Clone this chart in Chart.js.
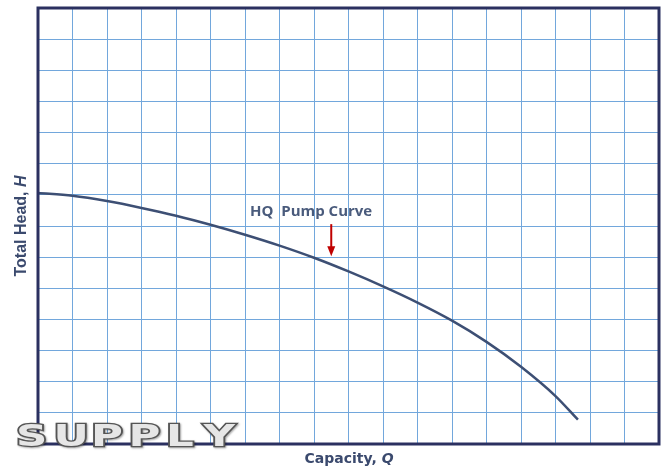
<!DOCTYPE html>
<html>
<head>
<meta charset="utf-8">
<script src="https://cdn.jsdelivr.net/npm/chart.js@4/dist/chart.umd.min.js"></script>
<style>
html,body{margin:0;padding:0;background:#fff;}
#wrap{position:relative;width:665px;height:470px;}
</style>
</head>
<body>
<div id="wrap"><canvas id="c"></canvas></div>
<script>
// Data (grid units)
const capacity = [0, 1, 2, 3, 4, 5, 6, 7, 8, 9, 10, 11, 12, 13, 14, 15, 15.65];
const head     = [8.06, 7.97, 7.80, 7.58, 7.33, 7.04, 6.72, 6.37, 5.98, 5.54, 5.06, 4.54, 3.96, 3.28, 2.48, 1.54, 0.78];
const xRange = [0, 18];
const yRange = [0, 14];
const seriesName = "HQ  Pump Curve";
const xTitle = ["Capacity, ", "Q"];
const yTitle = ["Total Head, ", "H"];
const watermark = "SUPPLY";
const annotationAt = [8.5, 6];

const overlay = {
  id: 'overlay',
  afterDraw(chart) {
    const ctx = chart.ctx, a = chart.chartArea;
    const xs = chart.scales.x, ys = chart.scales.y;
    ctx.save();
    // frame
    ctx.strokeStyle = '#2b3060';
    ctx.lineWidth = 3;
    ctx.strokeRect(a.left, a.top, a.right - a.left, a.bottom - a.top);

    // annotation text
    ctx.fillStyle = '#4a5b7c';
    ctx.font = 'bold 15px "Open Sans", sans-serif';
    ctx.textBaseline = 'middle';
    ctx.textAlign = 'left';
    ctx.fillText(seriesName, 250, 212);
    // red arrow pointing to the curve
    const ax = xs.getPixelForValue(annotationAt[0]);
    const ay = ys.getPixelForValue(annotationAt[1]);
    ctx.strokeStyle = '#c00000';
    ctx.fillStyle = '#c00000';
    ctx.lineWidth = 2;
    ctx.beginPath();
    ctx.moveTo(ax, ay - 33);
    ctx.lineTo(ax, ay - 8);
    ctx.stroke();
    ctx.beginPath();
    ctx.moveTo(ax - 4, ay - 11);
    ctx.lineTo(ax + 4, ay - 11);
    ctx.lineTo(ax, ay - 1);
    ctx.closePath();
    ctx.fill();

    // axis titles
    ctx.fillStyle = '#3b4a6e';
    ctx.textBaseline = 'middle';
    const xf = 'bold 14px "DejaVu Sans", sans-serif';
    const xfi = 'bold italic 14px "DejaVu Sans", sans-serif';
    ctx.font = xf;
    const w1 = ctx.measureText(xTitle[0]).width;
    ctx.font = xfi;
    const w2 = ctx.measureText(xTitle[1]).width;
    let sx = 349 - (w1 + w2) / 2;
    ctx.font = xf;
    ctx.fillText(xTitle[0], sx, 459);
    ctx.font = xfi;
    ctx.fillText(xTitle[1], sx + w1, 459);
    // y title
    ctx.save();
    ctx.translate(22, 226);
    ctx.rotate(-Math.PI / 2);
    const yf = 'bold 16px "Liberation Sans", Arial, sans-serif';
    const yfi = 'bold italic 16px "Liberation Sans", Arial, sans-serif';
    ctx.font = yf;
    const v1 = ctx.measureText(yTitle[0]).width;
    ctx.font = yfi;
    const v2 = ctx.measureText(yTitle[1]).width;
    let sy = -(v1 + v2) / 2;
    ctx.font = yf;
    ctx.fillText(yTitle[0], sy, 0);
    ctx.font = yfi;
    ctx.fillText(yTitle[1], sy + v1, 0);
    ctx.restore();

    // metallic watermark
    ctx.font = 'bold 30px "DejaVu Sans", sans-serif';
    ctx.textBaseline = 'alphabetic';
    const letters = watermark.split('');
    const gap = 37.5;
    const g = ctx.createLinearGradient(0, 422, 0, 447);
    g.addColorStop(0, '#e6e6e6');
    g.addColorStop(0.3, '#a9a9a9');
    g.addColorStop(0.5, '#7d7d7d');
    g.addColorStop(0.75, '#c4c4c4');
    g.addColorStop(1, '#6c6c6c');
    letters.forEach((ch, i) => {
      const cx = 16 + i * gap;
      ctx.save();
      ctx.translate(cx, 446);
      ctx.scale(1.45, 1.0);
      ctx.shadowColor = 'rgba(0,0,0,0.35)';
      ctx.shadowBlur = 2;
      ctx.shadowOffsetX = 1;
      ctx.shadowOffsetY = 1;
      ctx.lineWidth = 2.6;
      ctx.strokeStyle = '#555555';
      ctx.strokeText(ch, 0, 0);
      ctx.shadowColor = 'transparent';
      ctx.fillStyle = g;
      ctx.fillText(ch, 0, 0);
      ctx.restore();
    });
    ctx.restore();
  }
};

new Chart(document.getElementById('c'), {
  type: 'line',
  data: {
    datasets: [{
      label: seriesName,
      data: capacity.map((x, i) => ({ x: x, y: head[i] })),
      borderColor: '#3d4f74',
      borderWidth: 2.5,
      pointRadius: 0,
      fill: false,
      cubicInterpolationMode: 'monotone'
    }]
  },
  options: {
    responsive: true,
    maintainAspectRatio: false,
    animation: false,
    layout: { padding: { left: 38, right: 6, top: 8, bottom: 26 } },
    plugins: { legend: { display: false }, tooltip: { enabled: false } },
    scales: {
      x: {
        type: 'linear', min: xRange[0], max: xRange[1],
        ticks: { display: false, stepSize: 1 },
        grid: { color: '#72a7dc', lineWidth: 1, drawTicks: false },
        border: { display: false }
      },
      y: {
        type: 'linear', min: yRange[0], max: yRange[1],
        ticks: { display: false, stepSize: 1 },
        grid: { color: '#72a7dc', lineWidth: 1, drawTicks: false },
        border: { display: false }
      }
    }
  },
  plugins: [overlay]
});
</script>
</body>
</html>
